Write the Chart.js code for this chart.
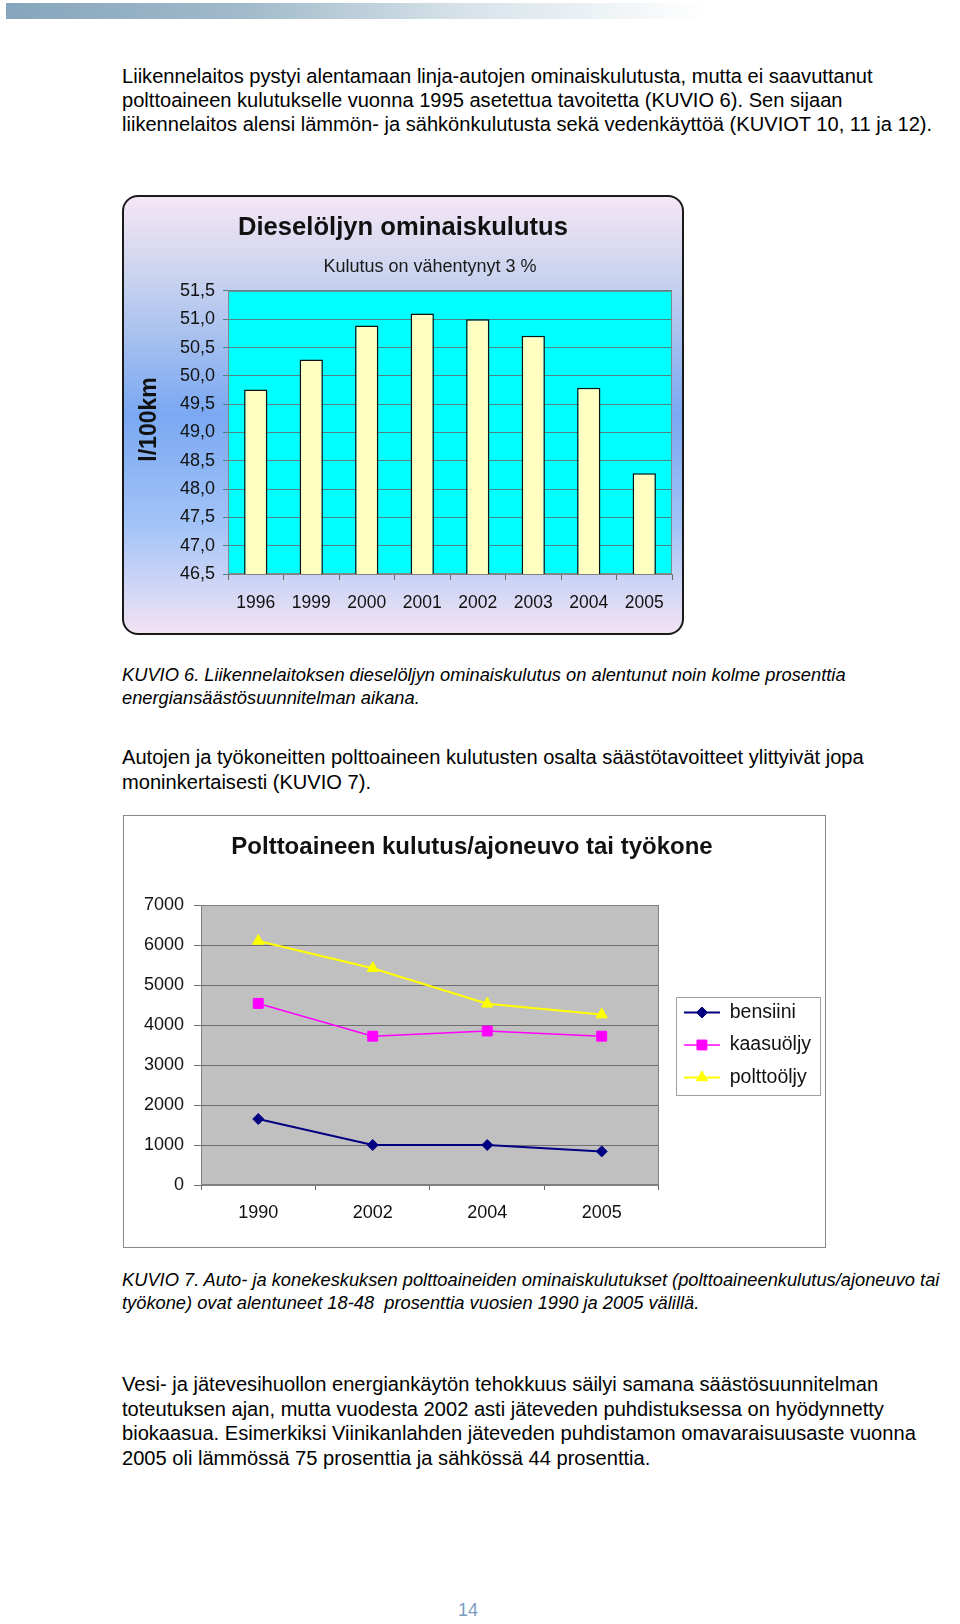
<!DOCTYPE html>
<html lang="fi">
<head>
<meta charset="utf-8">
<title>KUVIO 6 ja KUVIO 7</title>
<script src="https://cdn.jsdelivr.net/npm/chart.js@4.4.1/dist/chart.umd.min.js"></script>
<style>
  html, body { margin: 0; padding: 0; background: #fff; }
  body {
    width: 960px; height: 1624px; position: relative; overflow: hidden;
    font-family: "Liberation Sans", Arial, Helvetica, sans-serif; color: #000;
  }
  .topbar {
    position: absolute; left: 6px; top: 3px; width: 700px; height: 16px;
    background: linear-gradient(to right, #86a5bc, #a2bbcb 35%, #d6e2e9 65%, #fff);
  }
  .txt, .cap { position: absolute; left: 122px; white-space: nowrap; }
  .txt { font-size: 20.1px; line-height: 24px; }
  .cap { font-size: 18.3px; line-height: 23px; font-style: italic; }
  #frame1 {
    position: absolute; left: 122px; top: 195px; width: 562px; height: 440px;
    box-sizing: border-box; border: 2px solid #1a1a1a; border-radius: 16px;
    background: linear-gradient(to bottom, #f5e6f5 0%, #c8d2ee 19%, #7aa8f2 50%, #a2c3f7 75%, #f2e3f3 100%);
  }
  #frame2 {
    position: absolute; left: 123px; top: 815px; width: 703px; height: 433px;
    box-sizing: border-box; border: 1px solid #8a8a8a; background: #fff;
  }
  #diesel { position: absolute; left: 122px; top: 195px; }
  #fuel { position: absolute; left: 123px; top: 815px; }
  .pageno {
    position: absolute; left: 440px; top: 1600px; width: 56px; text-align: center;
    font-size: 18px; color: #7d9dbf;
  }
</style>
</head>
<body>
<div class="topbar"></div>

<div class="txt" style="top:64px">
Liikennelaitos pystyi alentamaan linja-autojen ominaiskulutusta, mutta ei saavuttanut<br>
polttoaineen kulutukselle vuonna 1995 asetettua tavoitetta (KUVIO 6). Sen sijaan<br>
liikennelaitos alensi lämmön- ja sähkönkulutusta sekä vedenkäyttöä (KUVIOT 10, 11 ja 12).
</div>

<div id="frame1"></div>
<canvas id="diesel" width="562" height="440"></canvas>

<div class="cap" style="top:663px">
KUVIO 6. Liikennelaitoksen dieselöljyn ominaiskulutus on alentunut noin kolme prosenttia<br>
energiansäästösuunnitelman aikana.
</div>

<div class="txt" style="top:745px; line-height:25px">
Autojen ja työkoneitten polttoaineen kulutusten osalta säästötavoitteet ylittyivät jopa<br>
moninkertaisesti (KUVIO 7).
</div>

<div id="frame2"></div>
<canvas id="fuel" width="703" height="433"></canvas>

<div class="cap" style="top:1268px">
KUVIO 7. Auto- ja konekeskuksen polttoaineiden ominaiskulutukset (polttoaineenkulutus/ajoneuvo tai<br>
työkone) ovat alentuneet 18-48&nbsp; prosenttia vuosien 1990 ja 2005 välillä.
</div>

<div class="txt" style="top:1372px; line-height:24.5px">
Vesi- ja jätevesihuollon energiankäytön tehokkuus säilyi samana säästösuunnitelman<br>
toteutuksen ajan, mutta vuodesta 2002 asti jäteveden puhdistuksessa on hyödynnetty<br>
biokaasua. Esimerkiksi Viinikanlahden jäteveden puhdistamon omavaraisuusaste vuonna<br>
2005 oli lämmössä 75 prosenttia ja sähkössä 44 prosenttia.
</div>

<div class="pageno">14</div>

<script>
// KUVIO 6
const dieselYears = ['1996', '1999', '2000', '2001', '2002', '2003', '2004', '2005'];
const dieselValues = [49.76, 50.29, 50.89, 51.1, 51.0, 50.71, 49.79, 48.28];

// KUVIO 7
const fuelYears = ['1990', '2002', '2004', '2005'];
const bensiini = [1650, 1000, 1000, 840];
const kaasuoljy = [4540, 3720, 3850, 3720];
const polttooljy = [6100, 5420, 4530, 4260];

const FONT = '"Liberation Sans", Arial, Helvetica, sans-serif';
Chart.defaults.font.family = FONT;
Chart.defaults.color = '#111';
Chart.defaults.animation = false;

// fills the plot area and draws the thin frame round it
const plotArea = {
  id: 'plotArea',
  beforeDraw(chart, args, opts) {
    const {ctx, chartArea: {left, top, width, height}} = chart;
    ctx.save();
    ctx.fillStyle = opts.fill;
    ctx.fillRect(left, top, width, height);
    ctx.restore();
  },
  beforeDatasetsDraw(chart, args, opts) {
    const {ctx, chartArea: {left, top, width, height}} = chart;
    ctx.save();
    ctx.strokeStyle = opts.stroke;
    ctx.lineWidth = 1;
    ctx.strokeRect(left + 0.5, top + 0.5, width - 1, height - 1);
    ctx.restore();
  }
};

// the original has its subtitle and rotated axis title a bit off centre
const titleOffsets = {
  id: 'titleOffsets',
  afterLayout(chart, args, opts) {
    const text = chart.options.plugins.subtitle.text;
    chart.boxes.forEach((b) => {
      if (b !== chart.titleBlock && b.options && b.options.text === text) {
        b.left += opts.subtitleShift;
        b.right += opts.subtitleShift;
      }
    });
  },
  afterDraw(chart, args, opts) {
    const {ctx, chartArea, scales: {y}} = chart;
    ctx.save();
    ctx.font = 'bold 23px ' + FONT;
    ctx.fillStyle = '#111';
    ctx.textAlign = 'center';
    ctx.textBaseline = 'middle';
    ctx.translate(y.left + opts.yTitleX, (chartArea.top + chartArea.bottom) / 2 + opts.yTitleShift);
    ctx.rotate(-Math.PI / 2);
    ctx.fillText(opts.yTitle, 0, 0);
    ctx.restore();
  }
};

// legend samples as line + marker, and a box round the legend
const legendFrame = {
  id: 'legendFrame',
  afterDraw(chart, args, opts) {
    const legend = chart.legend;
    if (!opts.color || !legend || !legend.legendHitBoxes) return;
    const boxes = legend.legendHitBoxes;
    const bw = legend.options.labels.boxWidth;
    const {ctx} = chart;
    const last = boxes[boxes.length - 1];
    const top = boxes[0].top - 6;
    const bottom = last.top + last.height + 7;
    ctx.save();
    ctx.strokeStyle = opts.color;
    ctx.lineWidth = 1;
    ctx.strokeRect(Math.round(legend.left + 5) + 0.5, Math.round(top) + 0.5,
      Math.round(legend.right - legend.left - 6), Math.round(bottom - top));
    boxes.forEach((hb, i) => {
      const ds = chart.data.datasets[i];
      const y = hb.top + hb.height / 2;
      ctx.strokeStyle = ds.borderColor;
      ctx.lineWidth = ds.borderWidth;
      ctx.beginPath();
      ctx.moveTo(hb.left, y);
      ctx.lineTo(hb.left + bw, y);
      ctx.stroke();
      ctx.fillStyle = ds.backgroundColor;
      ctx.lineWidth = 1;
      Chart.helpers.drawPoint(ctx, {pointStyle: ds.pointStyle, radius: ds.pointRadius, borderWidth: 1}, hb.left + bw / 2, y);
    });
    ctx.restore();
  }
};

const hiddenLegendBoxes = (chart) =>
  Chart.defaults.plugins.legend.labels.generateLabels(chart).map((item) => ({
    ...item,
    fillStyle: 'rgba(0,0,0,0)',
    strokeStyle: 'rgba(0,0,0,0)',
    lineWidth: 0
  }));

new Chart(document.getElementById('diesel').getContext('2d'), {
  type: 'bar',
  data: {
    labels: dieselYears,
    datasets: [{
      label: 'l/100km',
      data: dieselValues,
      backgroundColor: '#ffffc2',
      borderColor: '#111',
      borderWidth: 1.5,
      barPercentage: 0.42,
      categoryPercentage: 1
    }]
  },
  options: {
    responsive: false,
    layout: {padding: 0},
    plugins: {
      legend: {display: false},
      tooltip: {enabled: false},
      title: {
        display: true,
        text: 'Dieselöljyn ominaiskulutus',
        font: {size: 25.6, weight: 'bold'},
        color: '#111',
        padding: {top: 17.6, bottom: 0}
      },
      subtitle: {
        display: true,
        fullSize: false,
        text: 'Kulutus on vähentynyt 3 %',
        font: {size: 18},
        color: '#1a1a1a',
        padding: {top: 13, bottom: 13}
      },
      plotArea: {fill: '#00ffff', stroke: '#7f8a8a'},
      titleOffsets: {subtitleShift: -20, yTitle: 'l/100km', yTitleX: 28, yTitleShift: -13}
    },
    scales: {
      x: {
        grid: {offset: true, drawOnChartArea: false, tickLength: 6, color: '#666'},
        border: {color: '#808080'},
        ticks: {padding: 12.5, font: {size: 17.5}, color: '#111', maxRotation: 0},
        afterFit: (s) => { s.height = 61; }
      },
      y: {
        min: 46.5,
        max: 51.5,
        ticks: {
          stepSize: 0.5,
          padding: 8,
          font: {size: 18},
          color: '#111',
          callback: (v) => v.toFixed(1).replace('.', ',')
        },
        grid: {tickLength: 5, color: '#4f8282'},
        border: {color: '#808080'},
        afterFit: (s) => { s.width = 106; }
      },
      gap: {
        position: 'right',
        grid: {display: false},
        ticks: {display: false},
        border: {display: false},
        afterFit: (s) => { s.width = 12; }
      }
    }
  },
  plugins: [plotArea, titleOffsets]
});

new Chart(document.getElementById('fuel').getContext('2d'), {
  type: 'line',
  data: {
    labels: fuelYears,
    datasets: [{
      label: 'bensiini',
      data: bensiini,
      borderColor: '#000080',
      backgroundColor: '#000080',
      borderWidth: 2,
      pointStyle: 'rectRot',
      pointRadius: 5.5,
      pointBorderWidth: 1
    }, {
      label: 'kaasuöljy',
      data: kaasuoljy,
      borderColor: '#ff00ff',
      backgroundColor: '#ff00ff',
      borderWidth: 1.6,
      pointStyle: 'rect',
      pointRadius: 7,
      pointBorderWidth: 1
    }, {
      label: 'polttoöljy',
      data: polttooljy,
      borderColor: '#ffff00',
      backgroundColor: '#ffff00',
      borderWidth: 2,
      pointStyle: 'triangle',
      pointRadius: 6.5,
      pointBorderWidth: 1
    }]
  },
  options: {
    responsive: false,
    layout: {padding: {right: 5}},
    plugins: {
      tooltip: {enabled: false},
      title: {
        display: true,
        text: 'Polttoaineen kulutus/ajoneuvo tai työkone',
        font: {size: 24, weight: 'bold'},
        color: '#111',
        padding: {top: 17.6, bottom: 43.6}
      },
      legend: {
        position: 'right',
        fullSize: false,
        maxWidth: 220,
        labels: {
          boxWidth: 36,
          padding: 13,
          font: {size: 19.5},
          color: '#111',
          generateLabels: hiddenLegendBoxes
        }
      },
      plotArea: {fill: '#c0c0c0', stroke: '#808080'},
      legendFrame: {color: '#a0a0a0'}
    },
    scales: {
      x: {
        offset: true,
        grid: {offset: true, drawOnChartArea: false, tickLength: 5, color: '#666'},
        border: {color: '#808080'},
        ticks: {padding: 12.2, font: {size: 18}, color: '#111', maxRotation: 0},
        afterFit: (s) => { s.height = 63; }
      },
      y: {
        min: 0,
        max: 7000,
        ticks: {stepSize: 1000, padding: 10, font: {size: 18}, color: '#111', callback: (v) => String(v)},
        grid: {tickLength: 7, color: '#6e6e6e'},
        border: {color: '#808080'},
        afterFit: (s) => { s.width = 78; }
      },
      gap: {
        position: 'right',
        grid: {display: false},
        ticks: {display: false},
        border: {display: false},
        afterFit: (s) => { s.width = 12; }
      }
    }
  },
  plugins: [plotArea, legendFrame]
});
</script>
</body>
</html>
